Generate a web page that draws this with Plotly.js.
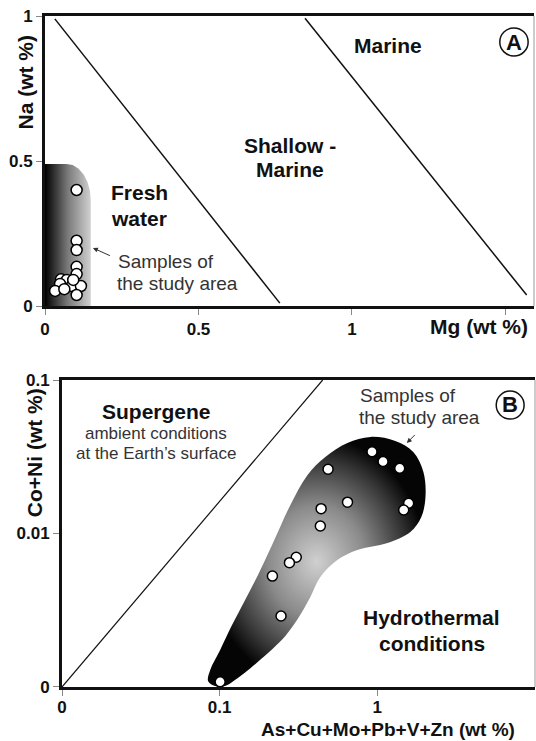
<!DOCTYPE html>
<html>
<head>
<meta charset="utf-8">
<script src="https://cdn.plot.ly/plotly-3.0.1.min.js"></script>
<style>html,body{margin:0;padding:0;background:#fff;}#chart{width:536px;height:741px;}</style>
</head>
<body>
<div id="chart"></div>
<script>
// ---------- Panel A : Na vs Mg ----------
const freshRegionMg = [0, 0, 0.07, 0.0905, 0.1095, 0.1259, 0.1384, 0.1463, 0.149, 0.149, 0];
const freshRegionNa = [0, 0.49, 0.49, 0.486, 0.473, 0.4537, 0.428, 0.398, 0.366, 0, 0];
const sampleMgA = [0.103, 0.103, 0.103, 0.103, 0.103, 0.052, 0.071, 0.087, 0.117, 0.049, 0.033, 0.063, 0.103, 0.092];
const sampleNaA = [0.40, 0.225, 0.193, 0.135, 0.11, 0.092, 0.09, 0.069, 0.069, 0.076, 0.052, 0.058, 0.038, 0.09];
const boundary1Mg = [0.032, 0.765];
const boundary1Na = [0.99, 0.01];
const boundary2Mg = [0.847, 1.569];
const boundary2Na = [0.992, 0.038];
const xTicksA = [0, 0.5, 1, 1.5];
const xTickTextA = ['0', '0.5', '1', ''];
const yTicksA = [0, 0.5, 1];
const yTickTextA = ['0', '0.5', '1'];

// ---------- Panel B : Co+Ni vs As+Cu+Mo+Pb+V+Zn ----------
const blobMetals = [0.0935, 0.0845, 0.0871, 0.1007, 0.120, 0.145, 0.175, 0.215, 0.281, 0.360, 0.468, 0.646, 0.904, 1.30, 1.69, 1.96, 2.02, 1.90, 1.62, 1.16, 0.746, 0.557, 0.435, 0.376, 0.324, 0.261, 0.175, 0.125, 0.108, 0.0935];
const blobCoNi = [0.001015, 0.00109, 0.00129, 0.00174, 0.00254, 0.00369, 0.00537, 0.00841, 0.01535, 0.0240, 0.0315, 0.0389, 0.0426, 0.0401, 0.0340, 0.0252, 0.0173, 0.0128, 0.01023, 0.00867, 0.00781, 0.00671, 0.00521, 0.00386, 0.00294, 0.00215, 0.00146, 0.00111, 0.001015, 0.001015];
const sampleMetals = [0.925, 1.087, 1.387, 0.487, 0.647, 0.44, 0.435, 1.58, 1.47, 0.306, 0.277, 0.216, 0.245, 0.1007];
const sampleCoNi = [0.0341, 0.0294, 0.0266, 0.0262, 0.0160, 0.01452, 0.0112, 0.01574, 0.01422, 0.0070, 0.00646, 0.00528, 0.0029, 0.00108];
const boundaryMetals = [0.01, 0.45];
const boundaryCoNi = [0.001, 0.1];
const xTicksB = [0.01, 0.1, 1];
const xTickTextB = ['0', '0.1', '1'];
const yTicksB = [0.001, 0.01, 0.1];
const yTickTextB = ['0', '0.01', '0.1'];

const FONT = 'Liberation Sans, Arial, Helvetica, sans-serif';
const DARK = '#111';
const GREY = '#333';

const traces = [
  {x: freshRegionMg, y: freshRegionNa, xaxis: 'x', yaxis: 'y', mode: 'lines', fill: 'toself',
   line: {width: 0, color: 'rgba(0,0,0,0)'},
   fillgradient: {type: 'horizontal', start: 0, stop: 0.149, colorscale: [[0, '#000'], [0.5, '#7a7a7a'], [1, '#d0d0d0']]},
   showlegend: false},
  {x: boundary1Mg, y: boundary1Na, xaxis: 'x', yaxis: 'y', mode: 'lines', line: {color: DARK, width: 1.5}, showlegend: false},
  {x: boundary2Mg, y: boundary2Na, xaxis: 'x', yaxis: 'y', mode: 'lines', line: {color: DARK, width: 1.5}, showlegend: false},
  {x: sampleMgA, y: sampleNaA, xaxis: 'x', yaxis: 'y', mode: 'markers',
   marker: {size: 11, color: '#fff', line: {color: '#000', width: 1.5}}, showlegend: false},

  {x: blobMetals, y: blobCoNi, xaxis: 'x2', yaxis: 'y2', mode: 'lines', fill: 'toself',
   line: {width: 0, color: 'rgba(0,0,0,0)', shape: 'spline', smoothing: 1},
   fillgradient: {type: 'radial', colorscale: [[0, '#d0d0d0'], [0.45, '#8a8a8a'], [0.8, '#383838'], [1, '#050505']]},
   showlegend: false},
  {x: boundaryMetals, y: boundaryCoNi, xaxis: 'x2', yaxis: 'y2', mode: 'lines', line: {color: DARK, width: 1.2}, showlegend: false},
  {x: sampleMetals, y: sampleCoNi, xaxis: 'x2', yaxis: 'y2', mode: 'markers',
   marker: {size: 10, color: '#fff', line: {color: '#000', width: 1.5}}, showlegend: false}
];

const tickFont = {family: FONT, size: 17, color: DARK, weight: 'bold'};
const axisCommon = {showgrid: false, zeroline: false, showline: true, linecolor: DARK, linewidth: 3,
  ticks: 'outside', ticklen: 6, tickwidth: 1, tickcolor: '#888', tickfont: tickFont, fixedrange: true};

function ann(text, xref, yref, x, y, size, bold, color, xanchor, extra) {
  return Object.assign({text: text, xref: xref, yref: yref, x: x, y: y, showarrow: false,
    xanchor: xanchor || 'center', yanchor: 'middle',
    font: {family: FONT, size: size, color: color, weight: bold ? 'bold' : 'normal'}}, extra || {});
}

const annotations = [
  // Panel A
  ann('Fresh', 'x domain', 'y domain', 0.131, 0.390, 21, true, DARK, 'left'),
  ann('water', 'x domain', 'y domain', 0.131, 0.303, 21, true, DARK, 'left'),
  ann('Shallow -', 'x domain', 'y domain', 0.501, 0.552, 21, true, DARK),
  ann('Marine', 'x domain', 'y domain', 0.501, 0.469, 21, true, DARK),
  ann('Marine', 'x domain', 'y domain', 0.701, 0.900, 21, true, DARK),
  ann('Samples of', 'x domain', 'y domain', 0.145, 0.152, 19, false, GREY, 'left'),
  ann('the study area', 'x domain', 'y domain', 0.143, 0.079, 19, false, GREY, 'left'),
  ann('A', 'x domain', 'y domain', 0.959, 0.910, 22, true, DARK),
  ann('Na (wt %)', 'paper', 'y domain', -0.04, 0.772, 21, true, DARK, 'center', {textangle: -90}),
  ann('Mg (wt %)', 'x domain', 'y domain', 0.888, -0.072, 21, true, DARK),
  {text: ' ', xref: 'x domain', yref: 'y domain', x: 0.098, y: 0.2, ax: 20, ay: 9,
   showarrow: true, arrowhead: 2, arrowsize: 1, arrowwidth: 1, arrowcolor: GREY},
  // Panel B
  ann('Supergene', 'x2 domain', 'y2 domain', 0.199, 0.899, 21, true, DARK),
  ann('ambient conditions', 'x2 domain', 'y2 domain', 0.199, 0.827, 17, false, GREY),
  ann('at the Earth\u2019s surface', 'x2 domain', 'y2 domain', 0.199, 0.762, 17, false, GREY),
  ann('Samples of', 'x2 domain', 'y2 domain', 0.626, 0.951, 19, false, GREY, 'left'),
  ann('the study area', 'x2 domain', 'y2 domain', 0.624, 0.879, 19, false, GREY, 'left'),
  ann('B', 'x2 domain', 'y2 domain', 0.947, 0.919, 22, true, DARK),
  ann('Hydrothermal', 'x2 domain', 'y2 domain', 0.782, 0.228, 21, true, DARK),
  ann('conditions', 'x2 domain', 'y2 domain', 0.782, 0.143, 21, true, DARK),
  ann('Co+Ni (wt %)', 'paper', 'y2 domain', -0.0225, 0.765, 21, true, DARK, 'center', {textangle: -90}),
  ann('As+Cu+Mo+Pb+V+Zn (wt %)', 'x2 domain', 'y2 domain', 0.689, -0.140, 19, true, DARK, 'center', {borderpad: 0}),
  {text: ' ', xref: 'x2 domain', yref: 'y2 domain', x: 0.729, y: 0.795, ax: 11, ay: -11,
   showarrow: true, arrowhead: 2, arrowsize: 1, arrowwidth: 1, arrowcolor: GREY}
];

const shapes = [
  {type: 'circle', xref: 'x domain', yref: 'y domain', x0: 0.930, x1: 0.988, y0: 0.862, y1: 0.959, line: {color: DARK, width: 1.5}},
  {type: 'circle', xref: 'x2 domain', yref: 'y2 domain', x0: 0.918, x1: 0.977, y0: 0.873, y1: 0.964, line: {color: DARK, width: 1.5}},
  {type: 'line', xref: 'x domain', yref: 'y domain', x0: 1, x1: 1, y0: 0, y1: 1, line: {color: '#999', width: 1}},
  {type: 'line', xref: 'x2 domain', yref: 'y2 domain', x0: 1, x1: 1, y0: 0, y1: 1, line: {color: '#999', width: 1}}
];

const layout = {
  width: 536, height: 741,
  margin: {l: 45, r: 1, t: 16, b: 54},
  paper_bgcolor: '#fff', plot_bgcolor: '#fff',
  showlegend: false, hovermode: false,
  xaxis: Object.assign({}, axisCommon, {domain: [0, 0.998], range: [0, 1.593], tickvals: xTicksA, ticktext: xTickTextA, mirror: true, anchor: 'y'}),
  yaxis: Object.assign({}, axisCommon, {domain: [0.5678, 1], range: [0, 1], tickvals: yTicksA, ticktext: yTickTextA, anchor: 'x'}),
  xaxis2: Object.assign({}, axisCommon, {domain: [0.0347, 1], type: 'log', range: [-2, 1], tickvals: xTicksB, ticktext: xTickTextB, mirror: true, anchor: 'y2', ticklabelstandoff: -3}),
  yaxis2: Object.assign({}, axisCommon, {domain: [0, 0.4575], type: 'log', range: [-3, -1], tickvals: yTicksB, ticktext: yTickTextB, anchor: 'x2'}),
  annotations: annotations,
  shapes: shapes
};

Plotly.newPlot('chart', traces, layout, {staticPlot: true, displayModeBar: false});
</script>
</body>
</html>
